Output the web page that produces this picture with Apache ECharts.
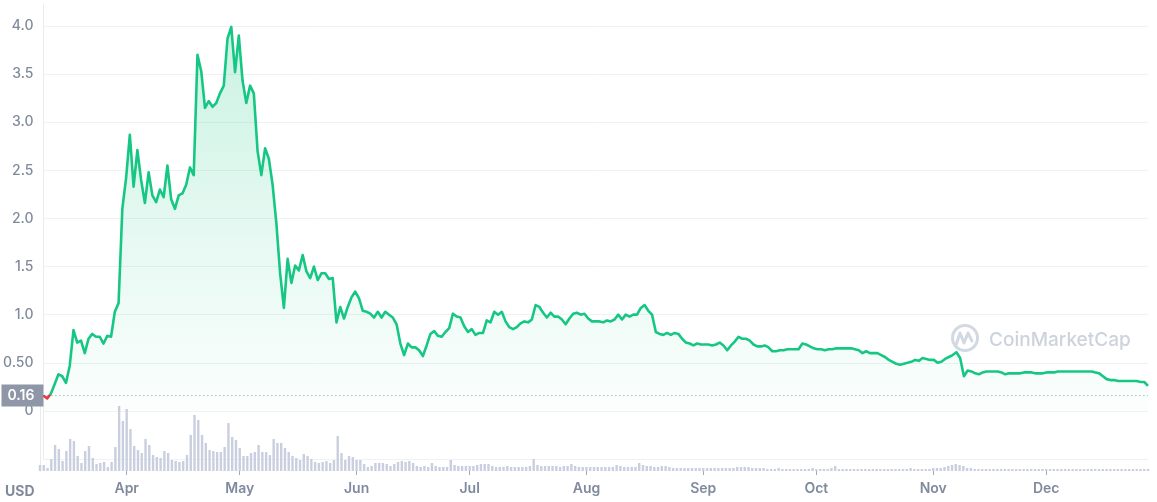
<!DOCTYPE html>
<html>
<head>
<meta charset="utf-8">
<script src="https://cdn.jsdelivr.net/npm/echarts/dist/echarts.min.js"></script>
<style>
html,body{margin:0;padding:0;background:#ffffff;}
#chart{width:1157px;height:502px;}
</style>
</head>
<body>
<div id="chart"></div>
<script>
// ---- data ----
const startDate = [2021, 2, 9];          // 9 Mar 2021, first daily point
const startPrice = 0.16;
const monthNames = ['Jan','Feb','Mar','Apr','May','Jun','Jul','Aug','Sep','Oct','Nov','Dec'];
const priceTicks = [0, 0.5, 1.0, 1.5, 2.0, 2.5, 3.0, 3.5, 4.0];

// daily close price (USD)
const priceValues = [
  0.16,0.13,0.18,0.28,0.38,0.36,0.29,0.47,0.84,0.71,
  0.73,0.60,0.75,0.80,0.77,0.77,0.70,0.78,0.77,1.03,
  1.12,2.10,2.42,2.87,2.33,2.71,2.40,2.16,2.48,2.24,
  2.17,2.30,2.22,2.55,2.20,2.10,2.24,2.26,2.35,2.53,
  2.45,3.70,3.53,3.15,3.22,3.16,3.20,3.30,3.38,3.87,
  3.99,3.52,3.90,3.43,3.20,3.38,3.30,2.70,2.45,2.73,
  2.62,2.35,1.95,1.43,1.07,1.58,1.33,1.51,1.46,1.62,
  1.45,1.38,1.50,1.36,1.43,1.43,1.37,1.38,0.92,1.08,
  0.96,1.08,1.18,1.24,1.17,1.04,1.03,1.01,0.97,1.03,
  0.97,1.03,1.00,0.97,0.90,0.70,0.58,0.70,0.66,0.66,
  0.63,0.57,0.68,0.80,0.83,0.78,0.77,0.82,0.86,1.01,
  0.98,0.97,0.88,0.82,0.85,0.79,0.81,0.81,0.94,0.92,
  1.03,1.00,1.03,0.93,0.87,0.85,0.87,0.91,0.93,0.92,
  0.95,1.10,1.08,1.02,0.97,1.02,0.98,0.98,0.95,0.90,
  0.96,1.01,1.02,1.00,1.01,0.96,0.93,0.93,0.93,0.92,
  0.94,0.93,0.95,1.00,0.95,1.00,0.98,1.00,1.00,1.07,
  1.10,1.04,1.00,0.82,0.80,0.79,0.81,0.79,0.81,0.80,
  0.75,0.71,0.70,0.68,0.70,0.69,0.69,0.69,0.68,0.69,
  0.71,0.68,0.63,0.68,0.72,0.77,0.75,0.75,0.73,0.69,
  0.67,0.67,0.68,0.66,0.62,0.62,0.63,0.63,0.64,0.64,
  0.64,0.64,0.70,0.69,0.67,0.65,0.64,0.64,0.63,0.64,
  0.64,0.65,0.65,0.65,0.65,0.65,0.64,0.63,0.60,0.62,
  0.60,0.60,0.60,0.58,0.56,0.53,0.51,0.49,0.48,0.49,
  0.50,0.51,0.53,0.52,0.55,0.54,0.53,0.53,0.50,0.51,
  0.54,0.56,0.58,0.61,0.55,0.36,0.42,0.41,0.39,0.38,
  0.40,0.41,0.41,0.41,0.41,0.40,0.38,0.39,0.39,0.39,
  0.39,0.40,0.40,0.40,0.39,0.39,0.39,0.40,0.40,0.40,
  0.41,0.41,0.41,0.41,0.41,0.41,0.41,0.41,0.41,0.41,
  0.40,0.39,0.36,0.33,0.32,0.32,0.31,0.31,0.31,0.31,
  0.31,0.31,0.30,0.30,0.26
];

// daily volume (relative units)
const volumeValues = [
  6,6,3,12,26,22,10,20,32,30,
  15,8,20,25,13,7,8,9,4,9,
  24,65,50,62,42,25,21,18,32,26,
  16,14,13,20,18,11,10,9,10,16,
  36,56,51,36,28,21,20,19,19,24,
  48,34,31,23,15,15,18,19,26,19,
  19,16,32,28,28,23,19,15,13,11,
  17,15,12,9,8,9,10,8,11,35,
  18,11,15,14,11,11,7,4,5,8,
  8,8,7,5,7,9,10,9,10,8,
  5,4,5,4,8,5,4,4,4,11,
  6,5,5,5,5,5,6,7,7,7,
  5,4,4,4,5,4,4,4,4,4,
  5,12,6,5,5,5,5,5,4,5,
  5,7,5,4,4,4,4,4,4,4,
  4,4,4,6,5,4,4,4,4,8,
  6,5,5,4,4,5,5,4,3,3,
  3,3,3,3,3,3,3,3,3,3,
  3,3,3,3,3,4,4,4,4,3,
  3,3,3,2,2,2,3,2,2,2,
  2,2,2,2,2,3,2,2,2,2,
  3,5,2,2,2,2,2,2,2,2,
  2,2,2,2,2,2,2,2,2,2,
  2,3,2,2,2,2,2,3,3,3,
  4,5,6,7,6,5,3,3,2,2,
  2,2,2,2,2,2,2,2,2,2,
  2,2,2,2,2,2,2,2,2,2,
  2,2,2,2,2,2,2,2,2,2,
  2,2,2,2,2,2,2,2,2,2,
  2,2,2,2,2
];

// ---- daily date categories ----
const dates = [];
const t0 = Date.UTC(startDate[0], startDate[1], startDate[2]);
for (let i = 0; i < priceValues.length; i++) {
  dates.push(new Date(t0 + i * 86400000).toISOString().slice(0, 10));
}

const GREEN = '#16c784', RED = '#ea3943';
const LABEL = '#808a9d';
const GRID = '#eff2f5';
const FONT = 'Inter, "Noto Sans", sans-serif';

const yMin = -0.5, yStep = 0.5, yMax = 4.2285;
const splitColors = [];
for (let v = yMin; v <= priceTicks[priceTicks.length - 1] + 1e-9; v += yStep) splitColors.push(GRID);
splitColors.push('rgba(0,0,0,0)');

const isMonthStart = (idx, val) => typeof val === 'string' && val.slice(8) === '01';

const chart = echarts.init(document.getElementById('chart'), null, {renderer: 'canvas'});
chart.setOption({
  animation: false,
  backgroundColor: '#ffffff',
  title: {
    text: 'USD', left: 0, top: 480,
    textStyle: {fontFamily: FONT, fontSize: 14, fontWeight: 700, color: LABEL}
  },
  visualMap: {
    show: false, type: 'piecewise', seriesIndex: 0, dimension: 1,
    pieces: [{min: -1, max: startPrice, color: RED}, {min: startPrice, max: 10, color: GREEN}]
  },
  grid: [
    {left: 40, right: 9, top: 4, bottom: 43},
    {left: 40, right: 9, top: 400, bottom: 31}
  ],
  xAxis: [
    {gridIndex: 0, type: 'category', data: dates, boundaryGap: false, show: false},
    {
      gridIndex: 1, type: 'category', data: dates, boundaryGap: false,
      axisLine: {show: false},
      axisTick: {show: true, interval: isMonthStart, length: 4, lineStyle: {color: '#a3a9b7'}},
      axisLabel: {
        interval: isMonthStart, margin: 11,
        formatter: v => monthNames[parseInt(v.slice(5, 7), 10) - 1],
        fontFamily: FONT, fontSize: 14, fontWeight: 600, color: LABEL
      },
      splitLine: {show: false}
    }
  ],
  yAxis: [
    {
      gridIndex: 0, type: 'value', min: yMin, max: yMax, interval: yStep,
      axisLine: {show: true, lineStyle: {color: '#e9ebef'}},
      axisTick: {show: false},
      axisLabel: {
        margin: 10, fontFamily: FONT, fontSize: 14, fontWeight: 500, color: LABEL,
        formatter: v => {
          if (v < -1e-9 || v > 4.0001) return '';
          if (Math.abs(v) < 1e-9) return '0';
          if (Math.abs(v - 0.5) < 1e-9) return '0.50';
          return v.toFixed(1);
        }
      },
      splitLine: {show: true, lineStyle: {color: splitColors, width: 1}}
    },
    {
      gridIndex: 1, type: 'value', min: 0, max: 71,
      axisLine: {show: true, lineStyle: {color: '#e9ebef'}},
      axisTick: {show: false}, axisLabel: {show: false}, splitLine: {show: false}
    }
  ],
  graphic: [
    {type: 'circle', silent: true, z: -10, shape: {cx: 965, cy: 338, r: 12.5},
     style: {fill: 'none', stroke: '#d3d9e3', lineWidth: 3}},
    {type: 'polyline', silent: true, z: -10,
     shape: {points: [[956, 345], [960, 333], [964, 343], [968, 333], [972, 341]]},
     style: {fill: 'none', stroke: '#d3d9e3', lineWidth: 3, lineJoin: 'round', lineCap: 'round'}},
    {type: 'text', silent: true, z: -10, x: 989, y: 340,
     style: {text: 'CoinMarketCap', fill: '#cdd3dd', font: '500 19px Inter, "Noto Sans", sans-serif', verticalAlign: 'middle'}}
  ],
  series: [
    {
      name: 'Price', type: 'line', xAxisIndex: 0, yAxisIndex: 0,
      data: priceValues, symbol: 'none', showSymbol: false, z: 5,
      lineStyle: {width: 2.6, join: 'round'},
      areaStyle: {
        color: new echarts.graphic.LinearGradient(0, 0, 0, 1, [
          {offset: 0, color: 'rgba(22,199,132,0.32)'},
          {offset: 1, color: 'rgba(22,199,132,0.02)'}
        ])
      },
      markLine: {
        silent: true, symbol: 'none', animation: false,
        data: [{yAxis: startPrice}],
        lineStyle: {type: [1, 3], color: '#8e96a7', width: 1},
        label: {
          position: 'start', distance: 0, formatter: String(startPrice),
          backgroundColor: '#8e96a7', color: '#ffffff', padding: [4, 9, 4, 6],
          fontFamily: FONT, fontSize: 14, fontWeight: 600
        }
      }
    },
    {
      name: 'Volume', type: 'bar', xAxisIndex: 1, yAxisIndex: 1,
      data: volumeValues, barWidth: 2.4, silent: true, z: 1,
      itemStyle: {color: '#c9cfdf'}
    }
  ]
});
</script>
</body>
</html>
